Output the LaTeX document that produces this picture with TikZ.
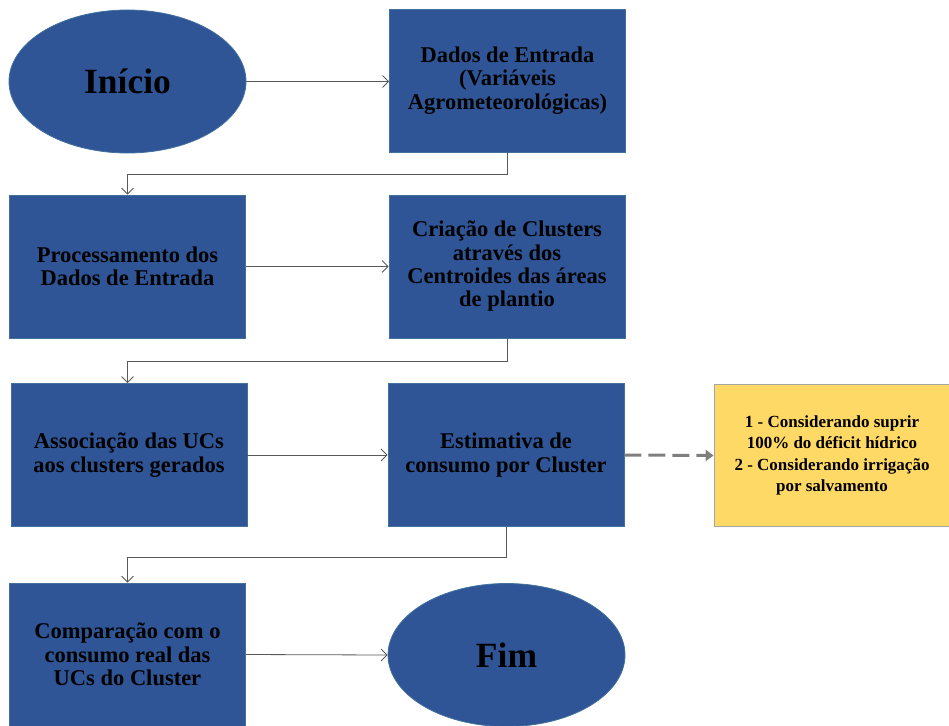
\documentclass[tikz,border=0pt]{standalone}
\usepackage{fontspec}
\setmainfont{Liberation Serif}
\usetikzlibrary{arrows.meta,shapes.geometric}
\definecolor{boxblue}{HTML}{2F5597}
\definecolor{boxedge}{HTML}{41719C}
\definecolor{noteyellow}{HTML}{FFD966}
\definecolor{noteedge}{HTML}{A6A6A6}
\definecolor{linegray}{HTML}{595959}
\definecolor{dashgray}{HTML}{7F7F7F}
\tikzset{
  x=1pt,y=-1pt,
  bluebox/.style={draw=boxedge,line width=0.8pt,fill=boxblue,minimum width=236pt,minimum height=143pt,inner sep=0pt,
    align=center,font=\fontsize{22.5}{23.3}\selectfont\bfseries,text=black},
  blueell/.style={ellipse,draw=boxedge,line width=0.8pt,fill=boxblue,minimum width=237pt,minimum height=143pt,inner sep=0pt,
    font=\fontsize{35.5}{40}\selectfont\bfseries,text=black},
  notebox/.style={draw=noteedge,line width=0.8pt,fill=noteyellow,minimum width=236pt,minimum height=142pt,inner sep=0pt,
    align=center,font=\fontsize{17}{21.5}\selectfont\bfseries,text=black},
  conn/.style={draw=linegray,line width=0.8pt,-{Straight Barb[length=6pt,width=12pt,line width=0.8pt]}},
  dconn/.style={draw=dashgray,line width=3pt,dash pattern=on 17pt off 7pt,-{Triangle[length=8pt,width=11pt]}}
}
\begin{document}
\begin{tikzpicture}
\useasboundingbox (0,0) rectangle (949,725);
\node[blueell] (ini) at (127.5,81.5) {Início};
\node[bluebox] (dados) at (507.5,80.5) {Dados de Entrada\\(Variáveis\\Agrometeorológicas)};
\node[bluebox] (proc) at (127.5,266.5) {Processamento dos\\Dados de Entrada};
\node[bluebox] (cria) at (507,266.5) {Criação de Clusters\\através dos\\Centroides das áreas\\de plantio};
\node[bluebox] (asso) at (129,455) {Associação das UCs\\aos clusters gerados};
\node[bluebox] (esti) at (506,455) {Estimativa de\\consumo por Cluster};
\node[notebox] (note) at (832,455.5) {1 - Considerando suprir\\100\% do déficit hídrico\\2 - Considerando irrigação\\por salvamento};
\node[bluebox] (comp) at (127.5,654.5) {Comparação com o\\consumo real das\\UCs do Cluster};
\node[blueell] (fim) at (506.5,655) {Fim};
\draw[conn] (ini.east) -- (dados.west |- ini.east);
\draw[conn] (dados.south) -- ++(0,22) -| (proc.north);
\draw[conn] (proc.east) -- (cria.west);
\draw[conn] (cria.south) -- ++(0,23) -| (asso.north -| proc.north);
\draw[conn] (asso.east) -- (esti.west);
\draw[dconn] (esti.east) -- (note.west);
\draw[conn] (esti.south) -- ++(0,30) -| (comp.north);
\draw[conn] (comp.east) -- (fim.west);
\end{tikzpicture}
\end{document}
